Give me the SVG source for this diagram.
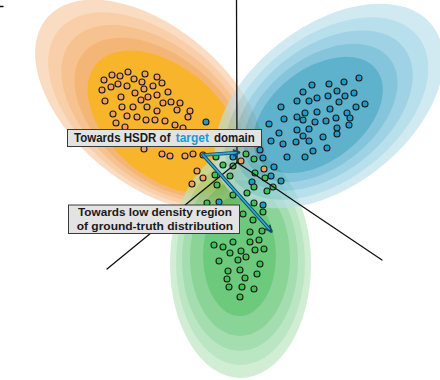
<svg xmlns="http://www.w3.org/2000/svg" width="440" height="380" viewBox="0 0 440 380">
<defs>
<style>
.o{fill:#f2a05c;stroke:#1a1a1a;stroke-width:1.1}
.b{fill:#1f9cc9;stroke:#1a1a1a;stroke-width:1.1}
.g{fill:#3dc34f;stroke:#1a1a1a;stroke-width:1.1}
.ln{stroke:#111;stroke-width:1.3;fill:none;stroke-linecap:round}
.ao{stroke:#124a66;stroke-width:3.4;fill:none;stroke-linecap:round}
.ai{stroke:#2fa8da;stroke-width:1.8;fill:none;stroke-linecap:round}
.box{fill:#e3e3e3;stroke:#3a3a3a;stroke-width:1}
.lbl{font-family:"Liberation Sans","Noto Sans","DejaVu Sans",sans-serif;font-weight:700;fill:#1a1a1a}
</style>
<marker id="ah" markerWidth="10" markerHeight="10" refX="6" refY="4" orient="auto" markerUnits="userSpaceOnUse">
<path d="M0.5,0.8 L6.5,4 L0.5,7.2" fill="none" stroke="#124a66" stroke-width="1.6"/>
</marker>
</defs>
<rect width="440" height="380" fill="#ffffff"/>

<g id="orange-dist">
<ellipse cx="150" cy="105" rx="135" ry="78" transform="rotate(40 150 105)" fill="#fadcc3"/>
<ellipse cx="153.75" cy="109.25" rx="123.75" ry="72.25" transform="rotate(40 153.75 109.25)" fill="#f8cfa8"/>
<ellipse cx="157.5" cy="113.5" rx="112.5" ry="66.5" transform="rotate(40 157.5 113.5)" fill="#f6c28f"/>
<ellipse cx="161.25" cy="117.75" rx="101.25" ry="60.75" transform="rotate(40 161.25 117.75)" fill="#f4b676"/>
<ellipse cx="165" cy="122" rx="90" ry="55" transform="rotate(40 165 122)" fill="#f8b52c"/>
</g>

<g id="green-dist" opacity="0.65">
<ellipse cx="240.5" cy="264" rx="70.5" ry="114" fill="#bae6c0"/>
<ellipse cx="240.5" cy="262.5" rx="64.5" ry="102.5" fill="#98daa4"/>
<ellipse cx="240" cy="260.5" rx="58" ry="90.5" fill="#75cc87"/>
<ellipse cx="240" cy="258" rx="50" ry="78" fill="#4ebe61"/>
<ellipse cx="239.5" cy="255.5" rx="36.5" ry="60.5" fill="#20af37"/>
</g>

<g id="blue-dist" opacity="0.65">
<ellipse cx="329" cy="106" rx="131" ry="80" transform="rotate(-38 329 106)" fill="#badfeb"/>
<ellipse cx="326.5" cy="108.5" rx="116.5" ry="71.5" transform="rotate(-38 326.5 108.5)" fill="#92cee2"/>
<ellipse cx="323.5" cy="110.5" rx="102" ry="63" transform="rotate(-38 323.5 110.5)" fill="#6dbbd6"/>
<ellipse cx="320.5" cy="113" rx="88" ry="54.5" transform="rotate(-38 320.5 113)" fill="#45a7c9"/>
<ellipse cx="318" cy="115" rx="74" ry="46" transform="rotate(-38 318 115)" fill="#0989b1"/>
</g>

<g id="orange-points">
<circle class="o" cx="128" cy="72" r="3"/><circle class="o" cx="112" cy="75" r="3"/><circle class="o" cx="120" cy="76" r="3"/><circle class="o" cx="145" cy="74" r="3"/><circle class="o" cx="157" cy="77" r="3"/><circle class="o" cx="104" cy="80" r="3"/><circle class="o" cx="134" cy="79" r="3"/>
<circle class="o" cx="142" cy="82" r="3"/><circle class="o" cx="162" cy="83" r="3"/><circle class="o" cx="118" cy="84" r="3"/><circle class="o" cx="111" cy="87" r="3"/><circle class="o" cx="127" cy="86" r="3"/><circle class="o" cx="153" cy="86" r="3"/><circle class="o" cx="144" cy="89" r="3"/><circle class="o" cx="102" cy="90" r="3"/>
<circle class="o" cx="168" cy="92" r="3"/><circle class="o" cx="135" cy="93" r="3"/><circle class="o" cx="157" cy="95" r="3"/><circle class="o" cx="121" cy="97" r="3"/><circle class="o" cx="148" cy="97" r="3"/><circle class="o" cx="141" cy="100" r="3"/>
<circle class="o" cx="105" cy="101" r="3"/><circle class="o" cx="163" cy="103" r="3"/><circle class="o" cx="171" cy="102" r="3"/><circle class="o" cx="180" cy="103" r="3"/><circle class="o" cx="122" cy="107" r="3"/><circle class="o" cx="133" cy="107" r="3"/><circle class="o" cx="147" cy="107" r="3"/><circle class="o" cx="177" cy="110" r="3"/><circle class="o" cx="157" cy="111" r="3"/><circle class="o" cx="190" cy="111" r="3"/>
<circle class="o" cx="113" cy="114" r="3"/><circle class="o" cx="127" cy="116" r="3"/><circle class="o" cx="137" cy="117" r="3"/><circle class="o" cx="188" cy="117" r="3"/><circle class="o" cx="146" cy="120" r="3"/><circle class="o" cx="155" cy="120" r="3"/><circle class="o" cx="165" cy="121" r="3"/><circle class="o" cx="116" cy="123" r="3"/>
<circle class="o" cx="175" cy="125" r="3"/><circle class="o" cx="183" cy="128" r="3"/><circle class="o" cx="125" cy="127" r="3"/>
<circle class="o" cx="144" cy="149" r="3"/><circle class="o" cx="162" cy="154" r="3"/><circle class="o" cx="170" cy="156" r="3"/><circle class="o" cx="185" cy="156" r="3"/><circle class="o" cx="193" cy="154" r="3"/><circle class="o" cx="203" cy="155" r="3"/><circle class="o" cx="197" cy="171" r="3"/><circle class="o" cx="203" cy="178" r="3"/><circle class="o" cx="192" cy="184" r="3"/><circle class="o" cx="241" cy="161" r="3"/><circle class="o" cx="264" cy="169" r="3"/>
</g>

<g id="blue-points">
<circle class="b" cx="312" cy="85" r="3"/><circle class="b" cx="329" cy="84" r="3"/><circle class="b" cx="344" cy="82" r="3"/><circle class="b" cx="359" cy="78" r="3"/><circle class="b" cx="303" cy="92" r="3"/><circle class="b" cx="337" cy="91" r="3"/><circle class="b" cx="354" cy="93" r="3"/><circle class="b" cx="345" cy="96" r="3"/><circle class="b" cx="328" cy="96" r="3"/><circle class="b" cx="317" cy="98" r="3"/>
<circle class="b" cx="309" cy="101" r="3"/><circle class="b" cx="297" cy="101" r="3"/><circle class="b" cx="339" cy="102" r="3"/><circle class="b" cx="281" cy="107" r="3"/><circle class="b" cx="356" cy="107" r="3"/><circle class="b" cx="365" cy="104" r="3"/><circle class="b" cx="330" cy="109" r="3"/><circle class="b" cx="317" cy="112" r="3"/><circle class="b" cx="305" cy="113" r="3"/><circle class="b" cx="297" cy="117" r="3"/>
<circle class="b" cx="284" cy="119" r="3"/><circle class="b" cx="303" cy="120" r="3"/><circle class="b" cx="315" cy="122" r="3"/><circle class="b" cx="326" cy="121" r="3"/><circle class="b" cx="336" cy="118" r="3"/><circle class="b" cx="347" cy="113" r="3"/><circle class="b" cx="350" cy="118" r="3"/><circle class="b" cx="349" cy="125" r="3"/><circle class="b" cx="269" cy="124" r="3"/><circle class="b" cx="297" cy="130" r="3"/>
<circle class="b" cx="309" cy="129" r="3"/><circle class="b" cx="337" cy="128" r="3"/><circle class="b" cx="337" cy="134" r="3"/><circle class="b" cx="279" cy="133" r="3"/><circle class="b" cx="303" cy="136" r="3"/><circle class="b" cx="323" cy="137" r="3"/><circle class="b" cx="271" cy="141" r="3"/><circle class="b" cx="283" cy="144" r="3"/><circle class="b" cx="296" cy="142" r="3"/><circle class="b" cx="309" cy="141" r="3"/>
<circle class="b" cx="327" cy="148" r="3"/><circle class="b" cx="313" cy="151" r="3"/><circle class="b" cx="287" cy="157" r="3"/><circle class="b" cx="305" cy="157" r="3"/><circle class="b" cx="263" cy="158" r="3"/><circle class="b" cx="274" cy="167" r="3"/>
<circle class="b" cx="206" cy="122" r="3"/><circle class="b" cx="233" cy="157" r="3"/><circle class="b" cx="260" cy="150" r="3"/><circle class="b" cx="271" cy="176" r="3"/><circle class="b" cx="281" cy="181" r="3"/><circle class="b" cx="252" cy="182" r="3"/><circle class="b" cx="219" cy="202" r="3"/><circle class="b" cx="263" cy="205" r="3"/>
</g>

<g id="green-points">
<circle class="g" cx="216" cy="157" r="3"/><circle class="g" cx="246" cy="154" r="3"/><circle class="g" cx="254" cy="159" r="3"/><circle class="g" cx="223" cy="165" r="3"/><circle class="g" cx="233" cy="166" r="3"/><circle class="g" cx="255" cy="173" r="3"/><circle class="g" cx="215" cy="175" r="3"/><circle class="g" cx="230" cy="176" r="3"/><circle class="g" cx="265" cy="178" r="3"/><circle class="g" cx="217" cy="185" r="3"/>
<circle class="g" cx="254" cy="187" r="3"/><circle class="g" cx="273" cy="187" r="3"/><circle class="g" cx="267" cy="191" r="3"/><circle class="g" cx="247" cy="193" r="3"/><circle class="g" cx="233" cy="195" r="3"/><circle class="g" cx="207" cy="203" r="3"/><circle class="g" cx="254" cy="203" r="3"/><circle class="g" cx="243" cy="214" r="3"/><circle class="g" cx="263" cy="212" r="3"/><circle class="g" cx="253" cy="220" r="3"/>
<circle class="g" cx="250" cy="232" r="3"/><circle class="g" cx="262" cy="231" r="3"/><circle class="g" cx="214" cy="245" r="3"/><circle class="g" cx="223" cy="247" r="3"/><circle class="g" cx="233" cy="242" r="3"/><circle class="g" cx="250" cy="242" r="3"/><circle class="g" cx="259" cy="240" r="3"/><circle class="g" cx="230" cy="253" r="3"/><circle class="g" cx="241" cy="251" r="3"/><circle class="g" cx="255" cy="250" r="3"/>
<circle class="g" cx="264" cy="249" r="3"/><circle class="g" cx="219" cy="261" r="3"/><circle class="g" cx="238" cy="260" r="3"/><circle class="g" cx="246" cy="257" r="3"/><circle class="g" cx="260" cy="264" r="3"/><circle class="g" cx="228" cy="271" r="3"/><circle class="g" cx="240" cy="270" r="3"/><circle class="g" cx="257" cy="274" r="3"/><circle class="g" cx="227" cy="279" r="3"/><circle class="g" cx="245" cy="278" r="3"/>
<circle class="g" cx="229" cy="287" r="3"/><circle class="g" cx="242" cy="287" r="3"/><circle class="g" cx="254" cy="289" r="3"/><circle class="g" cx="240" cy="297" r="3"/>
</g>

<g id="connectors">
<line class="ln" x1="0" y1="6.5" x2="3" y2="6.5"/>
<line class="ln" x1="236.5" y1="0" x2="237" y2="162.5"/>
<line class="ln" x1="237" y1="162.5" x2="107" y2="269"/>
<line class="ln" x1="237" y1="162.5" x2="382" y2="260"/>
<path class="ao" d="M203,155 L238.5,152.5"/>
<path class="ai" d="M203,155 L238.5,152.5" marker-end="url(#ah)"/>
<path class="ao" d="M203,155 L271,231"/>
<path class="ai" d="M203,155 L271,231" marker-end="url(#ah)"/>
</g>

<g id="label-hsdr">
<rect class="box" x="67.5" y="129.5" width="194" height="17"/>
<text class="lbl" x="74" y="141.8" font-size="12.5" textLength="96.5" lengthAdjust="spacingAndGlyphs">Towards HSDR of</text>
<text class="lbl" x="175.7" y="141.8" font-size="12.5" style="fill:#1b9ccc" textLength="33.3" lengthAdjust="spacingAndGlyphs">target</text>
<text class="lbl" x="214" y="141.8" font-size="12.5" textLength="40.7" lengthAdjust="spacingAndGlyphs">domain</text>
</g>

<g id="label-lowdensity">
<rect class="box" x="68.5" y="205" width="171" height="28.5"/>
<text class="lbl" x="78" y="216.3" font-size="11.7" textLength="154" lengthAdjust="spacingAndGlyphs">Towards low density region</text>
<text class="lbl" x="76.7" y="229.8" font-size="11.7" textLength="156.5" lengthAdjust="spacingAndGlyphs">of ground-truth distribution</text>
</g>
</svg>
